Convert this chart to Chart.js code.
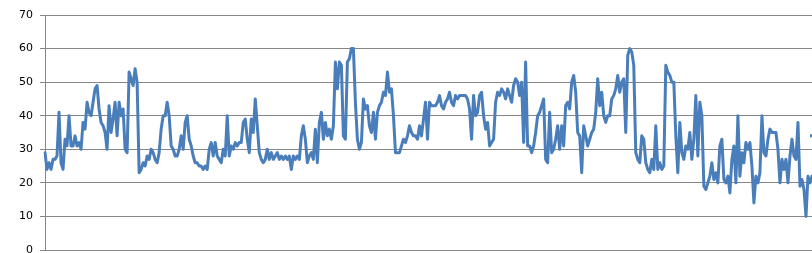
<!DOCTYPE html>
<html>
<head>
<meta charset="utf-8">
<script src="https://cdn.jsdelivr.net/npm/chart.js@4/dist/chart.umd.min.js"></script>
<style>
  html, body { margin: 0; padding: 0; background: #fff; overflow: hidden; }
  #wrap { width: 812px; height: 265px; }
</style>
</head>
<body>
<div id="wrap"><canvas id="c" width="812" height="265"></canvas></div>
<script>
// values, left to right (roughly one every 2 px)
var values = [
  29, 24, 26, 24, 27, 27, 28, 41, 26, 24, 33, 31, 40, 31, 31, 34, 31, 32, 30, 38, 36, 44, 41, 40, 44, 48, 49, 42, 38, 37, 35, 30, 43,
  35, 39, 44, 34, 44, 40, 42, 30, 29, 53, 51, 49, 54, 50, 23, 24, 26, 25, 28, 27, 30, 29, 27, 26, 29, 36, 40, 40, 44, 40, 31, 30, 28, 28, 30, 34,
  30, 38, 40, 33, 31, 28, 26, 26, 25, 25, 24, 25, 24, 30, 32, 28, 32, 28, 27, 26, 30, 28, 40, 28, 31, 30, 32, 31, 32, 32, 38, 39, 33, 29, 39,
  35, 45, 37, 29, 27, 26, 27, 30, 27, 29, 27, 28, 29, 27, 28, 27, 28, 27, 28, 24, 28, 27, 28, 27, 34, 37, 33, 26, 28, 29, 27, 36, 26, 38, 41,
  33, 38, 34, 36, 33, 37, 56, 48, 56, 55, 34, 33, 56, 57, 60, 60, 44, 33, 30, 32, 45, 42, 43, 37, 35, 41, 33, 41, 43, 44, 47, 46, 53, 47, 48,
  40, 29, 29, 29, 31, 33, 32, 34, 37, 35, 34, 34, 33, 37, 34, 39, 44, 33, 44, 43, 43, 43, 44, 46, 43, 42, 44, 45, 47, 44, 43, 46, 45, 46, 46,
  46, 46, 45, 42, 33, 46, 40, 41, 46, 47, 40, 36, 38, 31, 32, 33, 44, 47, 46, 48, 47, 45, 48, 46, 44, 49, 51, 50, 46, 50, 32, 56, 31, 31, 29,
  31, 35, 40, 41, 43, 45, 27, 26, 41, 29, 30, 33, 37, 30, 37, 31, 43, 44, 42, 50, 52, 47, 35, 34, 23, 37, 34, 31, 33, 35, 36, 41, 51, 43, 47,
  40, 38, 40, 40, 45, 46, 48, 52, 47, 50, 51, 35, 58, 60, 59, 55, 29, 27, 26, 34, 33, 26, 24, 23, 27, 24, 37, 24, 26, 24, 25, 55, 53, 52, 50,
  50, 34, 23, 38, 29, 27, 31, 30, 35, 27, 33, 46, 28, 44, 40, 19, 18, 20, 22, 26, 21, 23, 20, 31, 33, 21, 20, 22, 17, 27, 31, 20, 40, 22, 29,
  26, 32, 30, 32, 25, 14, 22, 20, 23, 40, 29, 28, 33, 36, 35, 35, 35, 30, 20, 27, 24, 27, 20, 28, 33, 28, 27, 38, 19, 21, 18, 10, 22, 20, 22
];
// short separate piece at the far right edge
var tailValues = [34, 34];

var yMin = 0;
var yMax = 70;
var yStep = 10;

var labels = values.map(function (v, i) { return i + 1; });
var tail = values.map(function () { return null; });
tail[tail.length - 2] = tailValues[0];
tail[tail.length - 1] = tailValues[1];

var lineColor = '#4a7ebb';
var gridColor = '#868686';

new Chart(document.getElementById('c'), {
  type: 'line',
  data: {
    labels: labels,
    datasets: [
      { data: values, borderColor: lineColor, borderWidth: 3, pointRadius: 0, tension: 0, borderJoinStyle: 'round', borderCapStyle: 'round' },
      { data: tail, borderColor: lineColor, borderWidth: 3, pointRadius: 0, tension: 0, spanGaps: false }
    ]
  },
  options: {
    responsive: false,
    animation: false,
    layout: { padding: { top: 15, bottom: 15, left: 0, right: 0 } },
    plugins: { legend: { display: false }, tooltip: { enabled: false } },
    scales: {
      x: { display: false, offset: false },
      y: {
        min: yMin,
        max: yMax,
        afterFit: function (s) { s.width = 45; },
        grid: { color: gridColor, lineWidth: 1, tickLength: 5, drawTicks: true },
        border: { color: gridColor, width: 1 },
        ticks: {
          stepSize: yStep,
          padding: 7,
          color: '#000',
          font: { family: 'DejaVu Sans', size: 11 }
        }
      }
    }
  }
});
</script>
</body>
</html>
